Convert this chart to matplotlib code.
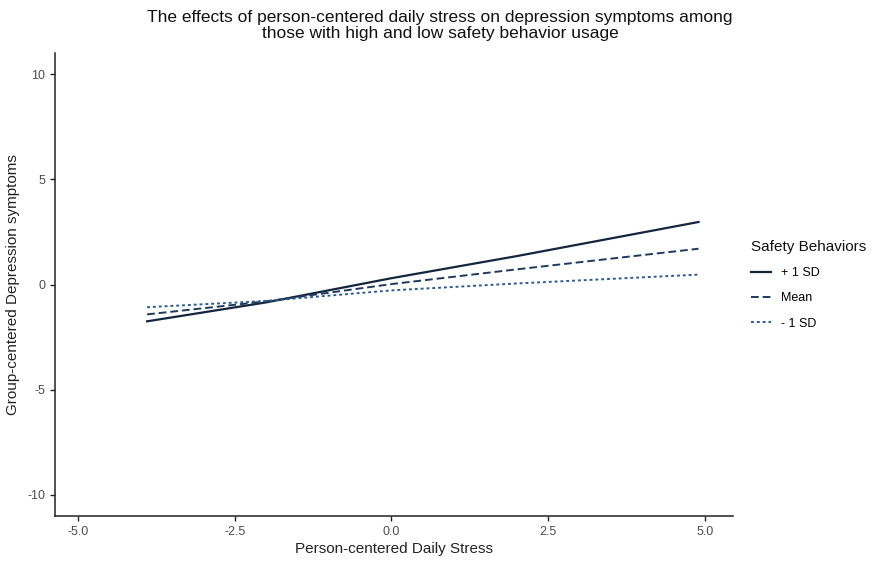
import numpy as np
import matplotlib.pyplot as plt

plt.rcParams['font.family'] = ['Liberation Sans', 'DejaVu Sans']
plt.rcParams['axes.unicode_minus'] = False

# Data -----------------------------------------------------------------------
stress = [-3.9, -2.0, 0.0, 2.0, 4.9]
plus_sd = [-1.75, -0.85, 0.30, 1.35, 2.97]
mean_sd = [-1.42, -0.80, 0.02, 0.72, 1.70]
minus_sd = [-1.08, -0.78, -0.28, 0.05, 0.47]
series_labels = ["+ 1 SD", "Mean", "- 1 SD"]

x_ticks = [-5.0, -2.5, 0.0, 2.5, 5.0]
y_ticks = [-10, -5, 0, 5, 10]

# Canvas ----------------------------------------------------------------------
fig = plt.figure(figsize=(8.75, 5.61), dpi=100)
ax = fig.add_axes([55 / 875, 1 - 516 / 561, (733 - 55) / 875, (516 - 53) / 561])

styles = [
    dict(color='#14263d', linestyle='-', linewidth=1.6),
    dict(color='#1f3a5a', linestyle=(0, (4, 2)), linewidth=1.4),
    dict(color='#2f5b8a', linestyle=(0, (1.5, 1.5)), linewidth=1.4),
]
for vals, lab, st in zip([plus_sd, mean_sd, minus_sd], series_labels, styles):
    ax.plot(stress, vals, label=lab, **st)

ax.set_xlim(-5.37, 5.45)
ax.set_ylim(-11, 11)
ax.set_xticks(x_ticks)
ax.set_xticklabels([f"{t:.1f}" for t in x_ticks])
ax.set_yticks(y_ticks)

for side in ['top', 'right']:
    ax.spines[side].set_visible(False)
for side in ['left', 'bottom']:
    ax.spines[side].set_linewidth(1.1)
    ax.spines[side].set_color('#222222')
ax.tick_params(colors='#222222', labelcolor='#4d4d4d', labelsize=9, length=3.5, width=1)

ax.set_xlabel("Person-centered Daily Stress", fontsize=11, color='#222222', labelpad=3)
ax.set_ylabel("Group-centered Depression symptoms", fontsize=11, color='#222222', labelpad=5)

fig.text(0.503, 0.983,
         "The effects of person-centered daily stress on depression symptoms among\n"
         "those with high and low safety behavior usage",
         ha='center', va='top', fontsize=12.5, color='#111111', linespacing=1.15)

leg = ax.legend(title="Safety Behaviors", loc='upper left', bbox_to_anchor=(1.01, 0.62),
                frameon=False, fontsize=9, title_fontsize=11, handlelength=1.6,
                labelspacing=1.05, alignment='left')
leg.get_title().set_color('#111111')

plt.savefig("out.png", dpi=100, facecolor='white')
plt.close()
